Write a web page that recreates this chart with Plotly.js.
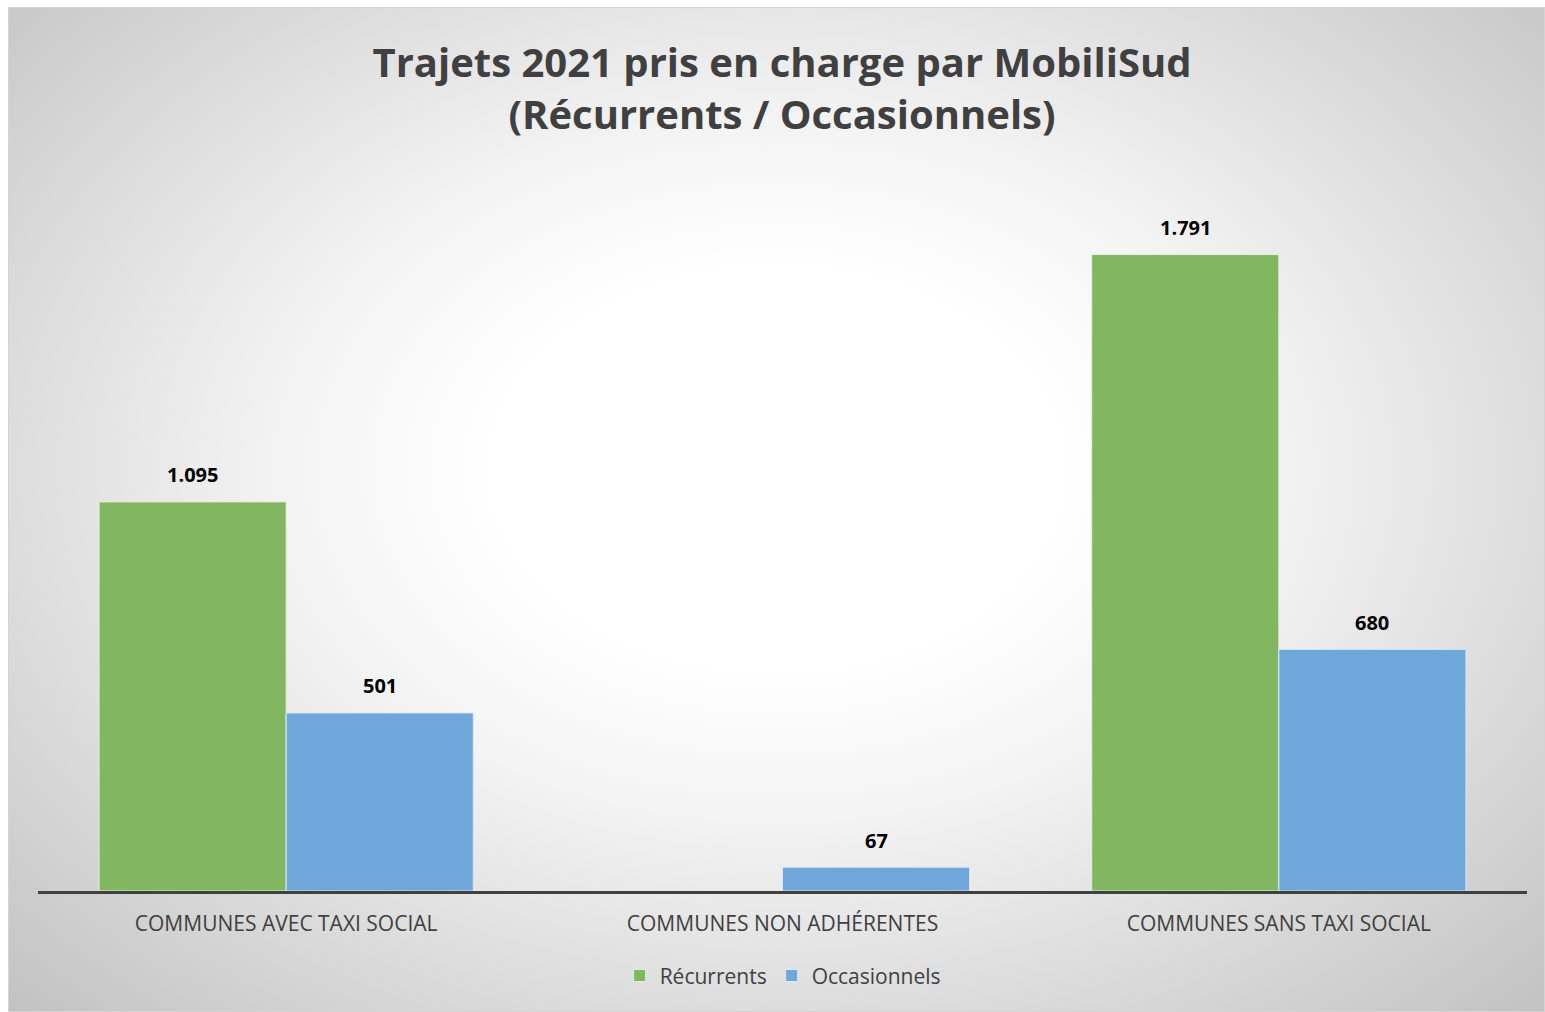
<!DOCTYPE html>
<html>
<head>
<meta charset="utf-8">
<script src="https://cdn.plot.ly/plotly-3.0.1.min.js"></script>
<style>
  html, body { margin: 0; padding: 0; background: #ffffff; }
  #frame {
    position: absolute; left: 8px; top: 7px;
    width: 1535px; height: 1003px;
    border: 1px solid #d4d4d4;
    background: radial-gradient(ellipse farthest-corner at 50% 46%, #ffffff 0%, #ffffff 26%, #f3f3f3 46%, #c2c2c2 100%);
  }
  #chart { width: 1535px; height: 1003px; }
</style>
</head>
<body>
<div id="frame"><div id="chart"></div></div>
<script>
const categories = ["COMMUNES AVEC TAXI SOCIAL", "COMMUNES NON ADHÉRENTES", "COMMUNES SANS TAXI SOCIAL"];
const seriesNames = ["Récurrents", "Occasionnels"];
const recurrents = [1095, null, 1791];
const occasionnels = [501, 67, 680];

const green = "#82b762";
const blue = "#6fa7da";
const font = "'Open Sans', 'Noto Sans', sans-serif";

const traces = [
  {
    type: "bar", name: seriesNames[0], x: categories, y: recurrents,
    marker: { color: green, line: { color: "#e4eedd", width: 1 } },
    hoverinfo: "skip"
  },
  {
    type: "bar", name: seriesNames[1], x: categories, y: occasionnels,
    marker: { color: blue, line: { color: "#dde8f3", width: 1 } },
    hoverinfo: "skip"
  }
];

function fmt(v) { return String(v).replace(/\B(?=(\d{3})+(?!\d))/g, "."); }

const annotations = [];
const groupShift = 93.5;
[recurrents, occasionnels].forEach((vals, s) => {
  vals.forEach((v, i) => {
    if (v === null) return;
    annotations.push({
      x: categories[i], y: v, xref: "x", yref: "y",
      text: fmt(v), showarrow: false,
      xshift: s === 0 ? -groupShift : groupShift,
      yshift: 27, yanchor: "middle",
      font: { family: font, size: 20, color: "#000000", weight: "bold" }
    });
  });
});

const layout = {
  width: 1535, height: 1003,
  paper_bgcolor: "rgba(0,0,0,0)", plot_bgcolor: "rgba(0,0,0,0)",
  margin: { l: 29, r: 17, t: 162, b: 120 },
  title: {
    text: "Trajets 2021 pris en charge par MobiliSud<br>(Récurrents / Occasionnels)",
    x: 0.5036, xref: "container", xanchor: "center",
    y: 0.931, yref: "container", yanchor: "middle",
    font: { family: font, size: 40, color: "#404040", weight: "bold" }
  },
  barmode: "group", bargap: 0.246, bargroupgap: 0,
  xaxis: {
    showline: true, linecolor: "#404040", linewidth: 3,
    showgrid: false, ticks: "", ticklabelstandoff: 12,
    tickfont: { family: font, size: 21, color: "#404040" },
    fixedrange: true
  },
  yaxis: {
    range: [0, 2029], visible: false, showgrid: false, zeroline: false, fixedrange: true
  },
  showlegend: true,
  legend: {
    orientation: "h", xref: "container", yref: "container",
    x: 0.504, xanchor: "center", y: 0.035, yanchor: "middle",
    font: { family: font, size: 21, color: "#404040" },
    itemwidth: 30, traceorder: "normal", bgcolor: "rgba(0,0,0,0)"
  },
  annotations: annotations
};

Plotly.newPlot("chart", traces, layout, { displayModeBar: false, staticPlot: true });
</script>
</body>
</html>
